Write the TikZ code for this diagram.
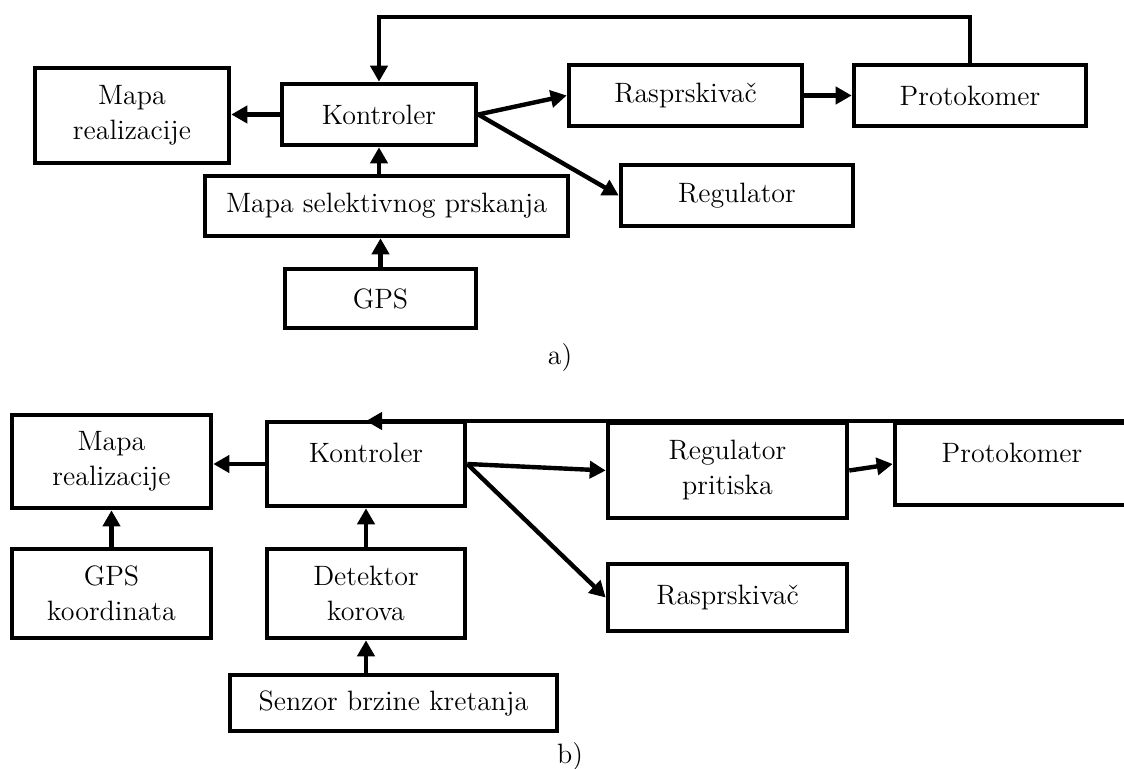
\documentclass[tikz,border=0pt]{standalone}
\usetikzlibrary{arrows.meta}
\newcommand\dfont{\fontsize{14}{17.5}\selectfont}
\tikzset{
  box/.style={draw, line width=2.3pt, inner sep=0pt, align=center, font=\dfont},
  txt/.style={inner sep=0pt, font=\dfont},
  arr/.style={line width=2.2pt, -{Triangle[length=8pt,width=8.5pt]}},
}
\begin{document}
\begin{tikzpicture}[x=0.5pt,y=-0.5pt]
\useasboundingbox (0,0) rectangle (1124,769);
\clip (0,0) rectangle (1124,769);
% ---------- a) ----------
\node[box, minimum width=97pt, minimum height=47.5pt] (mapa1) at (132,115.5) {Mapa\\realizacije};
\node[box, minimum width=97pt, minimum height=30.5pt] (kon1) at (379,114.5) {Kontroler};
\node[box, minimum width=181.5pt, minimum height=30pt] (sel1) at (386.5,206) {Mapa selektivnog prskanja};
\node[box, minimum width=95.5pt, minimum height=29.5pt] (gps1) at (380.5,298.5) {GPS};
\node[box, minimum width=116.5pt, minimum height=30.5pt] (ras1) at (685.5,95.5) {Rasprskivač};
\node[box, minimum width=116pt, minimum height=30.5pt] (prot1) at (970,95.5) {Protokomer};
\node[box, minimum width=116pt, minimum height=30.5pt] (reg1) at (737,195.5) {Regulator};
\coordinate (fa) at (0,17);
\draw[arr] (kon1.west) -- (kon1.west -| mapa1.east);
\draw[arr] (kon1.east) -- (ras1.west);
\draw[arr] (kon1.east) -- (reg1.west);
\draw[arr] (ras1.east) -- (prot1.west);
\draw[arr] (gps1.north) -- (gps1.north |- sel1.south);
\draw[arr] (kon1.south |- sel1.north) -- (kon1.south);
\draw[arr] (prot1.north) -- (prot1.north |- fa) -| (kon1.north);
\node[txt] (la) at (560,358) {a)};
% ---------- b) ----------
\node[box, minimum width=99.5pt, minimum height=46.5pt] (mapa2) at (111.5,461.5) {Mapa\\realizacije};
\node[box, minimum width=99pt, minimum height=42pt] (kon2) at (366,464) {};
\node[txt] (kon2t) at (366,453) {Kontroler};
\node[box, minimum width=99.5pt, minimum height=44.5pt] (gps2) at (111.5,593.5) {GPS\\koordinata};
\node[box, minimum width=99pt, minimum height=44.5pt] (det2) at (366,593.5) {Detektor\\korova};
\node[box, minimum width=163.5pt, minimum height=28pt] (sen2) at (393.5,703) {Senzor brzine kretanja};
\node[box, minimum width=119.5pt, minimum height=47.5pt] (regp2) at (727.5,470.5) {Regulator\\pritiska};
\node[box, minimum width=119.5pt, minimum height=33.5pt] (ras2) at (727.5,597.5) {Rasprskivač};
\node[box, minimum width=152.5pt, minimum height=41pt] (prot2) at (1047.5,464) {};
\node[txt] (prot2t) at (1012,453) {Protokomer};
\coordinate (fb) at (1135,421);
\draw[arr] (fb) -- (fb -| kon2.north);
\draw[arr] (kon2.west) -- (kon2.west -| mapa2.east);
\draw[arr] (kon2.east) -- (regp2.west);
\draw[arr] (kon2.east) -- (ras2.west);
\draw[arr] (regp2.east) -- (prot2.west);
\draw[arr] (gps2.north) -- (mapa2.south);
\draw[arr] (det2.north) -- (det2.north |- kon2.south);
\draw[arr] (sen2.north -| det2.north) -- (det2.south);
\node[txt] (lb) at (570,757) {b)};
\end{tikzpicture}
\end{document}
